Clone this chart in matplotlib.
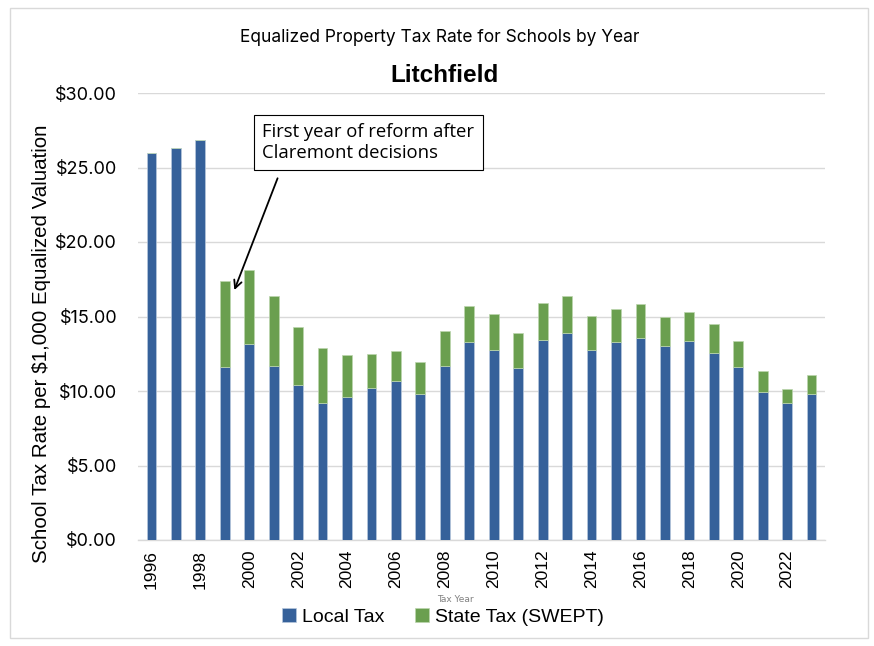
import numpy as np
import matplotlib
matplotlib.use("Agg")
import matplotlib.pyplot as plt
from matplotlib.patches import Rectangle

years = list(range(1996, 2024))
local_tax = [25.95, 26.29, 26.87, 11.63, 13.18, 11.68, 10.38, 9.22, 9.62, 10.18,
             10.69, 9.78, 11.70, 13.31, 12.77, 11.57, 13.45, 13.92, 12.77, 13.31,
             13.58, 13.04, 13.38, 12.55, 11.63, 9.93, 9.22, 9.82]
total_tax = [25.95, 26.29, 26.87, 17.36, 18.10, 16.40, 14.32, 12.89, 12.39, 12.46,
             12.71, 11.92, 14.05, 15.73, 15.15, 13.87, 15.91, 16.35, 15.01, 15.52,
             15.82, 14.99, 15.32, 14.47, 13.33, 11.34, 10.13, 11.05]
state_tax = [round(t - l, 2) for t, l in zip(total_tax, local_tax)]

blue = "#36619a"
green = "#6a9f4f"

fig = plt.figure(figsize=(8.74, 6.46), dpi=100)
ax = fig.add_axes([138/874, 106/646, 687/874, 447/646])

x = np.arange(len(years))
ax.bar(x, local_tax, width=0.4, color=blue, edgecolor="#b8c8dc", linewidth=0.5, label="Local Tax", zorder=3)
ax.bar(x, state_tax, width=0.4, bottom=local_tax, color=green, edgecolor="#bcd6ae", linewidth=0.5,
       label="State Tax (SWEPT)", zorder=3)

ax.set_xlim(-0.55, len(years) - 0.45)
ax.set_ylim(0, 30)
ax.set_yticks(np.arange(0, 31, 5))
ax.set_yticklabels(["${:.2f}".format(v) for v in np.arange(0, 31, 5)],
                   fontsize=13, family="Inter")
ax.set_xticks(x[::2])
ax.set_xticklabels([str(y) for y in years[::2]], rotation=90, fontsize=12.5,
                   family="Liberation Sans")
ax.tick_params(length=0, pad=7)
ax.tick_params(axis="y", pad=15)
ax.grid(axis="y", color="#d9d9d9", linewidth=1, zorder=0)
for s in ["top", "right", "left"]:
    ax.spines[s].set_visible(False)
ax.spines["bottom"].set_color("#d9d9d9")
ax.spines["bottom"].set_linewidth(1)

ax.set_ylabel("School Tax Rate per $1,000 Equalized Valuation", fontsize=14.8,
              family="Liberation Sans", va="center")
ax.yaxis.set_label_coords(-0.14, 0.44)
fig.text(455/874, 1 - 600/646, "Tax Year", fontsize=6.5, color="#808080",
         ha="center", va="center", family="Liberation Sans Narrow")

fig.text(440/874, 1 - 37/646, "Equalized Property Tax Rate for Schools by Year",
         fontsize=12.5, ha="center", va="center", family="Inter")
fig.text(445/874, 1 - 75/646, "Litchfield", fontsize=17.5, fontweight="bold",
         ha="center", va="center", family="Liberation Sans")

# annotation box and arrow
ax.text(4.53, 26.68, "First year of reform after\nClaremont decisions", fontsize=13.3,
        family="Open Sans", ha="left", va="center", linespacing=1.2,
        bbox=dict(boxstyle="square,pad=0.45", fc="white", ec="black", lw=0.8), zorder=5)
ax.annotate("", xy=(3.35, 16.6), xytext=(5.2, 24.45),
            arrowprops=dict(arrowstyle="->", color="black", lw=1.3, mutation_scale=14), zorder=4)

leg = fig.legend(loc="center", bbox_to_anchor=(443/874, 1 - 617/646), ncol=2, frameon=False,
                 prop={"family": "Liberation Sans", "size": 14},
                 handlelength=0.7, handleheight=0.7, handletextpad=0.3, columnspacing=1.6)

fig.patches.append(Rectangle((10/874, 8/646), 858/874, 630/646, transform=fig.transFigure,
                             fill=False, ec="#d9d9d9", lw=1))

fig.savefig("out.png", dpi=100)
